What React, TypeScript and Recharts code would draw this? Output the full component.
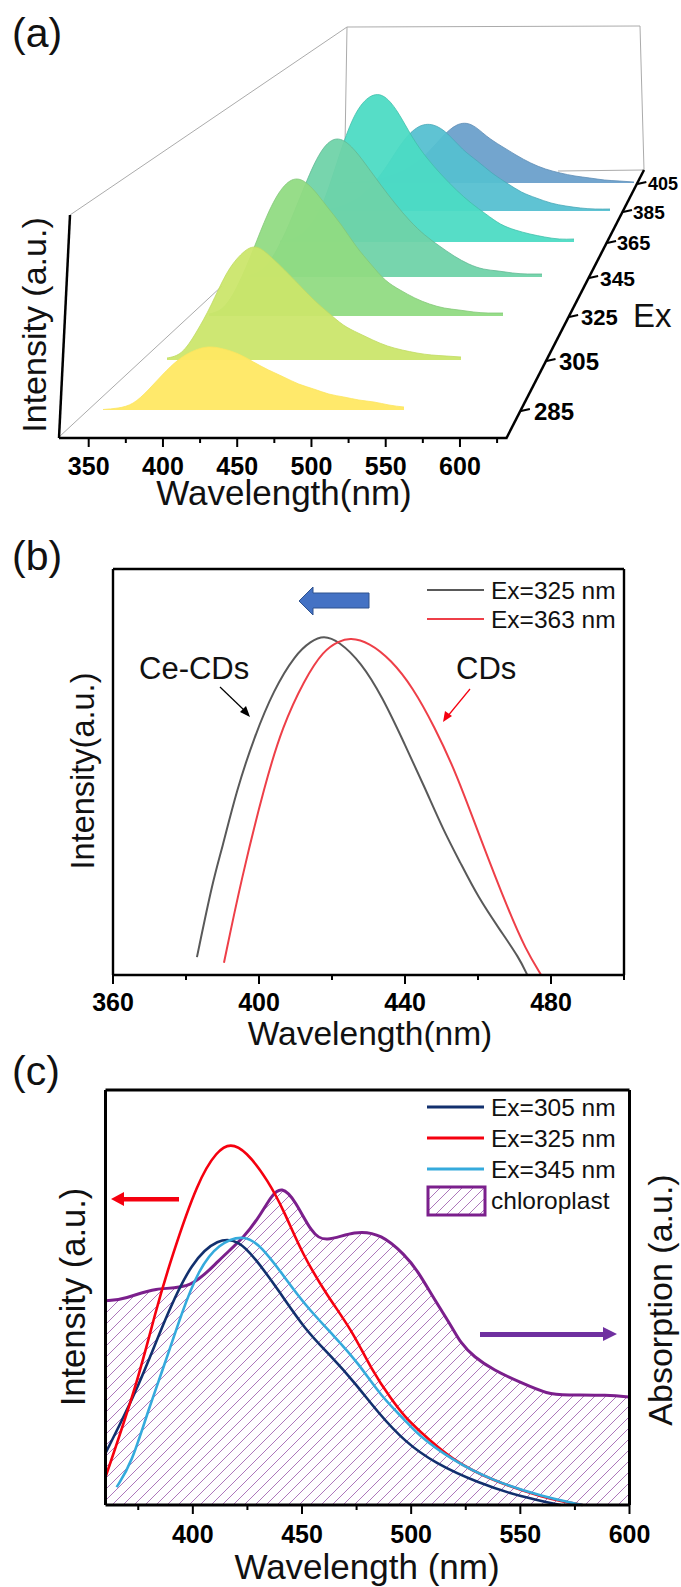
import { AreaChart, Area, LineChart, Line, ComposedChart, XAxis, YAxis, ReferenceLine } from 'recharts';

const W = 681;
const H = 1587;
const FONT = '"Liberation Sans", Arial, sans-serif';

// ─── Panel (a) data ───────────────────────────────────────────────────────────
const RIDGE_NM = [360, 370, 380, 390, 400, 410, 420, 430, 440, 450, 460, 470, 480, 490, 500, 510, 520, 530, 540, 550, 560];
const EX_405 = [0, 1, 2, 5, 10, 18, 30, 46, 58, 58, 47, 37, 28, 20, 14, 10, 7, 5, 3, 2, 1];
const EX_385 = [1, 2, 6, 14, 28, 48, 70, 84, 86, 77, 62, 50, 38, 28, 19, 13, 8, 5, 3, 2, 2];
const EX_365 = [1, 4, 16, 42, 85, 124, 144, 146, 130, 105, 84, 67, 52, 39, 28, 18, 12, 8, 5, 3, 3];
const EX_345 = [2, 9, 30, 62, 98, 127, 138, 130, 112, 92, 73, 56, 42, 31, 21, 13, 8, 6, 4, 3, 3];
const EX_325 = [2, 9, 32, 66, 102, 128, 137, 128, 110, 91, 70, 52, 36, 26, 18, 12, 8, 6, 4, 3, 3];
const EX_305 = [2, 8, 28, 55, 85, 105, 113, 104, 90, 75, 60, 47, 35, 27, 20, 14, 10, 7, 5, 4, 3];
const EX_285 = [0.5, 2, 7, 20, 36, 50, 59, 63, 61, 56, 48, 40, 33, 26, 21, 16, 13, 10, 8, 5, 3];

const RIDGE_VALUES = [EX_405, EX_385, EX_365, EX_345, EX_325, EX_305, EX_285];
const RIDGE_COLORS = ['#6A9FCB', '#55BFD0', '#4BDBC4', '#6FD2A8', '#90DB82', '#CBE56A', '#FFE862'];
const RIDGE_EDGES = ['#5E8DB5', '#4AA8B8', '#43BFAB', '#62B893', '#84C878', '#C0DA62', '#FBE45E'];
// where each ridge sits in the fake 3d box: left and right edge, baseline, in page px
const RIDGE_LEFT = [339, 315, 280, 249, 209, 167, 103];
const RIDGE_RIGHT = [634, 610, 574, 542, 503, 461, 404];
const RIDGE_BASE = [183, 211, 242, 277, 316, 360, 410];

const EX_LABELS = ['405', '385', '365', '345', '325', '305', '285'];
const EX_LABEL_X = [648, 633, 617, 600, 581, 559, 534];
const EX_LABEL_SIZE = [18, 19, 20, 21, 22, 24, 24];

const A_MAJOR = [350, 400, 450, 500, 550, 600];
const A_MINOR = [375, 425, 475, 525, 575, 625];

// ─── Panel (b) data ───────────────────────────────────────────────────────────
const B_GRAY_NM = [383, 387.4, 389.8, 393.9, 398.7, 404, 410, 414.2, 417.7, 421.9, 427.9, 433.8, 439.8, 445.7, 450.5, 455.2, 460, 466, 471.3, 473.5];
const B_GRAY_I = [4.4, 23.4, 30.8, 45.6, 58.6, 70.2, 79, 82.2, 83.7, 82.2, 77.1, 68.5, 57.1, 45.6, 35.7, 27.6, 19.2, 11.1, 4.2, 0];
const B_RED_NM = [390.4, 395.1, 401.7, 406.4, 412.4, 417.7, 421.9, 424.9, 430.2, 436.2, 442.1, 448.1, 454, 460.8, 468.3, 473.1, 477.3];
const B_RED_I = [3, 23.4, 47.3, 61.1, 72.7, 80, 82.2, 83.1, 81.9, 77.6, 70.9, 61.1, 49.8, 33.3, 16, 6.2, 0];
const B_MAJOR = [360, 400, 440, 480];
const B_MINOR = [380, 420, 460, 500];

// ─── Panel (c) data ───────────────────────────────────────────────────────────
const C_PURPLE_NM = [360, 369.1, 382.7, 399.5, 411.7, 423.9, 431.5, 436.1, 440.7, 446.8, 454.4, 460.5, 474.3, 486.5, 497.2, 502.8, 510.8, 518.7, 522.7, 528.7, 537.7, 550.6, 562.6, 570.5, 590.4, 600];
const C_PURPLE_I = [49.2, 49.6, 52.5, 52, 59, 64.6, 70.4, 74.6, 76.8, 73.5, 65.5, 63.2, 66.2, 65.3, 60.2, 56.6, 49.4, 42.9, 39, 35.7, 32.5, 29.4, 26.7, 26.5, 26.5, 26];
const C_RED_NM = [360, 375, 382.7, 390.3, 402.4, 411.2, 417.2, 424.2, 434.4, 442.2, 449.9, 461.9, 472.8, 481.9, 491.1, 497.2, 502.8, 518.7, 536.7, 560.6, 578.5];
const C_RED_I = [6.7, 30.1, 46.3, 59.8, 78.3, 85.4, 87.2, 85.4, 78.3, 70.4, 60.7, 50.1, 42.2, 32.5, 25.3, 21.2, 18.3, 10.8, 6, 1.7, 0];
const C_NAVY_NM = [360, 375, 387.3, 399.5, 411.7, 420.9, 428.5, 439.2, 451.4, 463.6, 474.3, 484.9, 497.2, 510.8, 530.7, 550.6, 568.5];
const C_NAVY_I = [12.5, 28.2, 45, 58.8, 64.3, 63.8, 59.5, 51.8, 42.2, 35.7, 29.4, 22.2, 15.2, 10.1, 5.3, 1.9, 0];
const C_BLUE_NM = [365.1, 372, 379.6, 387.3, 394.9, 402.5, 411.7, 423.9, 431.5, 440.7, 451.4, 465.1, 475.8, 486.5, 497.2, 502.8, 518.7, 536.7, 560.6, 578.5];
const C_BLUE_I = [4.3, 10.1, 22.9, 34.2, 46.3, 56.6, 63.1, 65.2, 62.2, 55.9, 48.1, 40.5, 34.2, 26, 20.5, 17, 10.8, 6, 1.9, 0];
const C_MAJOR = [400, 450, 500, 550, 600];
const C_MINOR = [375, 425, 475, 525, 575];

const zip = (nm: number[], v: number[]) => nm.map((n, i) => ({ nm: n, v: v[i] }));

const layer = (z = 0): React.CSSProperties => ({ position: 'absolute', left: 0, top: 0, zIndex: z });

// every chart covers the whole page, the margin is what places its plot box
const box = (l: number, t: number, r: number, b: number) => ({ left: l, top: t, right: W - r, bottom: H - b });
// axes of size 0 are not drawn by recharts, so frames use 1px axes and pull the margin out by 1
const frameBox = (l: number, t: number, r: number, b: number) => box(l - 1, t - 1, r + 1, b + 1);

// ─── Shared axis tick ─────────────────────────────────────────────────────────
function WaveTick({ x, y, payload, major, sw = 2, size = 25, labelDy = 27 }: any) {
  const isMajor = major.includes(payload.value);
  return (
    <g>
      <line x1={x} x2={x} y1={y} y2={y + (isMajor ? 9 : 5)} stroke="#000" strokeWidth={sw} />
      {isMajor && (
        <text x={x} y={y + labelDy} textAnchor="middle" fontFamily={FONT} fontWeight="bold" fontSize={size} fill="#000">
          {payload.value}
        </text>
      )}
    </g>
  );
}

function Ridge({ index }: { index: number }) {
  const base = RIDGE_BASE[index];
  return (
    <AreaChart
      style={layer()}
      width={W}
      height={H}
      data={zip(RIDGE_NM, RIDGE_VALUES[index])}
      margin={box(RIDGE_LEFT[index], base - 170, RIDGE_RIGHT[index], base)}
    >
      <XAxis hide type="number" dataKey="nm" domain={[360, 560]} />
      <YAxis hide domain={[0, 170]} />
      <Area
        dataKey="v"
        type="natural"
        stroke={RIDGE_EDGES[index]}
        strokeWidth={0.8}
        fill={RIDGE_COLORS[index]}
        fillOpacity={0.94}
        dot={false}
        isAnimationActive={false}
      />
    </AreaChart>
  );
}

function PanelABack() {
  return (
    <svg width={W} height={H} style={layer()}>
      <g stroke="#ababab" strokeWidth={1} fill="none">
        <polyline points="70,215 347,27 640,26 644,170 558,171" />
        <line x1={347} y1={27} x2={345} y2={145} />
        <line x1={59} y1={437} x2={222} y2={286} />
      </g>
    </svg>
  );
}

function PanelAAxes() {
  return (
    <>
      <LineChart style={layer()} width={W} height={H} data={zip(A_MAJOR, A_MAJOR)} margin={box(59, 300, 506, 439)}>
        <XAxis
          type="number"
          dataKey="nm"
          domain={[330, 631]}
          ticks={[...A_MAJOR, ...A_MINOR].sort((a, b) => a - b)}
          interval={0}
          height={1}
          tickSize={0}
          tickMargin={0}
          tickLine={false}
          axisLine={{ stroke: '#000', strokeWidth: 2.5 }}
          tick={(p: any) => <WaveTick {...p} major={A_MAJOR} labelDy={37} />}
        />
        <YAxis hide domain={[0, 1]} />
      </LineChart>
      <svg width={W} height={H} style={layer()}>
        <line x1={59} y1={438} x2={70} y2={215} stroke="#000" strokeWidth={2.5} />
        <line x1={506} y1={439} x2={644} y2={170} stroke="#000" strokeWidth={2.5} />
        {EX_LABELS.map((label, i) => {
          const y = RIDGE_BASE[i];
          const ax = 506 + ((439 - y) * 138) / 269;
          return (
            <g key={label}>
              <line x1={ax} y1={y + 1} x2={ax + 9} y2={y - 1} stroke="#000" strokeWidth={2} />
              <text x={EX_LABEL_X[i]} y={y + EX_LABEL_SIZE[i] * 0.36 + 1} fontFamily={FONT} fontWeight="bold" fontSize={EX_LABEL_SIZE[i]} fill="#000">
                {label}
              </text>
            </g>
          );
        })}
        <text x={633} y={327} fontFamily={FONT} fontSize={33} fill="#111">Ex</text>
        <text x={284} y={505} textAnchor="middle" fontFamily={FONT} fontSize={35} fill="#111">Wavelength(nm)</text>
        <text transform="translate(46,325) rotate(-90)" textAnchor="middle" fontFamily={FONT} fontSize={34} fill="#111">Intensity (a.u.)</text>
        <text x={12} y={47} fontFamily={FONT} fontSize={41} fill="#111">(a)</text>
      </svg>
    </>
  );
}

function PanelB() {
  return (
    <LineChart style={layer()} width={W} height={H} margin={frameBox(113, 569, 624, 975)}>
      <XAxis
        type="number"
        dataKey="nm"
        domain={[360, 500]}
        ticks={[...B_MAJOR, ...B_MINOR].sort((a, b) => a - b)}
        interval={0}
        height={1}
        tickSize={0}
        tickMargin={0}
        tickLine={false}
        axisLine={{ stroke: '#000', strokeWidth: 2.5 }}
        tick={(p: any) => <WaveTick {...p} major={B_MAJOR} labelDy={36} />}
      />
      <XAxis xAxisId="top" orientation="top" type="number" dataKey="nm" domain={[360, 500]} height={1} tick={false} tickLine={false} axisLine={{ stroke: '#000', strokeWidth: 2.4 }} />
      <YAxis domain={[0, 100]} width={1} tick={false} tickLine={false} axisLine={{ stroke: '#000', strokeWidth: 2.4 }} />
      <YAxis yAxisId="right" orientation="right" domain={[0, 100]} width={1} tick={false} tickLine={false} axisLine={{ stroke: '#000', strokeWidth: 2.4 }} />
      <Line data={zip(B_GRAY_NM, B_GRAY_I)} dataKey="v" type="basis" stroke="#595959" strokeWidth={2} dot={false} isAnimationActive={false} />
      <Line data={zip(B_RED_NM, B_RED_I)} dataKey="v" type="basis" stroke="#EE3F48" strokeWidth={2} dot={false} isAnimationActive={false} />
    </LineChart>
  );
}

function PanelC() {
  return (
    <ComposedChart style={layer()} width={W} height={H} margin={frameBox(105.5, 1090, 629.5, 1505)}>
      <defs>
        <pattern id="hatch" patternUnits="userSpaceOnUse" width={11} height={11}>
          <path d="M-1,1 L1,-1 M0,11 L11,0 M10,12 L12,10" stroke="#A468B2" strokeWidth={0.9} />
        </pattern>
      </defs>
      <Area data={zip(C_PURPLE_NM, C_PURPLE_I)} dataKey="v" type="basis" stroke="#7B1F8C" strokeWidth={3} fill="url(#hatch)" fillOpacity={1} dot={false} isAnimationActive={false} />
      <ReferenceLine segment={[{ x: 360, y: 0 }, { x: 360, y: 49.4 }]} stroke="#7B1F8C" strokeWidth={3} />
      <Line data={zip(C_NAVY_NM, C_NAVY_I)} dataKey="v" type="basis" stroke="#12306E" strokeWidth={2.6} dot={false} isAnimationActive={false} />
      <Line data={zip(C_RED_NM, C_RED_I)} dataKey="v" type="basis" stroke="#F5000F" strokeWidth={2.6} dot={false} isAnimationActive={false} />
      <Line data={zip(C_BLUE_NM, C_BLUE_I)} dataKey="v" type="basis" stroke="#35AADC" strokeWidth={2.6} dot={false} isAnimationActive={false} />
      <XAxis
        type="number"
        dataKey="nm"
        domain={[360, 600]}
        ticks={[...C_MAJOR, ...C_MINOR].sort((a, b) => a - b)}
        interval={0}
        height={1}
        tickSize={0}
        tickMargin={0}
        tickLine={false}
        axisLine={{ stroke: '#000', strokeWidth: 3.2 }}
        tick={(p: any) => <WaveTick {...p} major={C_MAJOR} labelDy={38} />}
      />
      <XAxis xAxisId="top" orientation="top" type="number" dataKey="nm" domain={[360, 600]} height={1} tick={false} tickLine={false} axisLine={{ stroke: '#000', strokeWidth: 3.2 }} />
      <YAxis domain={[0, 100]} width={1} tick={false} tickLine={false} axisLine={{ stroke: '#000', strokeWidth: 3 }} />
      <YAxis yAxisId="right" orientation="right" domain={[0, 100]} width={1} tick={false} tickLine={false} axisLine={{ stroke: '#000', strokeWidth: 3 }} />
    </ComposedChart>
  );
}

function LegendRow({ y, color, label, sw }: { y: number; color: string; label: string; sw: number }) {
  return (
    <g>
      <line x1={427} x2={484} y1={y} y2={y} stroke={color} strokeWidth={sw} />
      <text x={491} y={y + 8.5} fontFamily={FONT} fontSize={24.5} fill="#111">{label}</text>
    </g>
  );
}

function Annotations() {
  return (
    <svg width={W} height={H} style={layer()}>
      {/* panel b */}
      <text x={12} y={570} fontFamily={FONT} fontSize={41} fill="#111">(b)</text>
      <text x={370} y={1045} textAnchor="middle" fontFamily={FONT} fontSize={33.5} fill="#111">Wavelength(nm)</text>
      <text transform="translate(94,771) rotate(-90)" textAnchor="middle" fontFamily={FONT} fontSize={32.5} fill="#111">Intensity(a.u.)</text>
      <LegendRow y={590} color="#595959" label="Ex=325 nm" sw={2} />
      <LegendRow y={619} color="#EE3F48" label="Ex=363 nm" sw={2} />
      <polygon points="299,601 313,587 313,593 369,593 369,608 313,608 313,615" fill="#4472C4" stroke="#2F528F" strokeWidth={1} />
      <text x={139} y={679} fontFamily={FONT} fontSize={31} fill="#111">Ce-CDs</text>
      <text x={456} y={679} fontFamily={FONT} fontSize={31} fill="#111">CDs</text>
      <line x1={220} y1={687} x2={245} y2={711} stroke="#000" strokeWidth={1.2} />
      <polygon points="250,717 240,712 246,706" fill="#000" />
      <line x1={470} y1={689} x2={447} y2={717} stroke="#F5000F" strokeWidth={1.2} />
      <polygon points="443,722 445,711 452,716" fill="#F5000F" />

      {/* panel c */}
      <text x={12} y={1085} fontFamily={FONT} fontSize={41} fill="#111">(c)</text>
      <text x={367} y={1579} textAnchor="middle" fontFamily={FONT} fontSize={35} fill="#111">Wavelength (nm)</text>
      <text transform="translate(85,1297) rotate(-90)" textAnchor="middle" fontFamily={FONT} fontSize={34.5} fill="#111">Intensity (a.u.)</text>
      <text transform="translate(672,1300) rotate(-90)" textAnchor="middle" fontFamily={FONT} fontSize={34} fill="#111">Absorption (a.u.)</text>
      <LegendRow y={1107} color="#12306E" label="Ex=305 nm" sw={3} />
      <LegendRow y={1138} color="#F5000F" label="Ex=325 nm" sw={3} />
      <LegendRow y={1169} color="#35AADC" label="Ex=345 nm" sw={3} />
      <rect x={428} y={1187} width={57} height={28} fill="url(#hatch)" stroke="#7B1F8C" strokeWidth={3} />
      <text x={491} y={1209} fontFamily={FONT} fontSize={24.5} fill="#111">chloroplast</text>
      <polygon points="111,1199 124,1192 124,1197 179,1197 179,1201.5 124,1201.5 124,1206" fill="#F5000F" />
      <polygon points="617,1334 603,1327 603,1332 480,1332 480,1337 603,1337 603,1341" fill="#7030A0" />
    </svg>
  );
}

export default function App() {
  return (
    <div style={{ position: 'absolute', left: 0, top: 0, width: W, height: H, background: '#fff', overflow: 'hidden' }}>
      <PanelABack />
      {RIDGE_VALUES.map((_, i) => (
        <Ridge key={i} index={i} />
      ))}
      <PanelAAxes />
      <PanelB />
      <PanelC />
      <Annotations />
    </div>
  );
}
